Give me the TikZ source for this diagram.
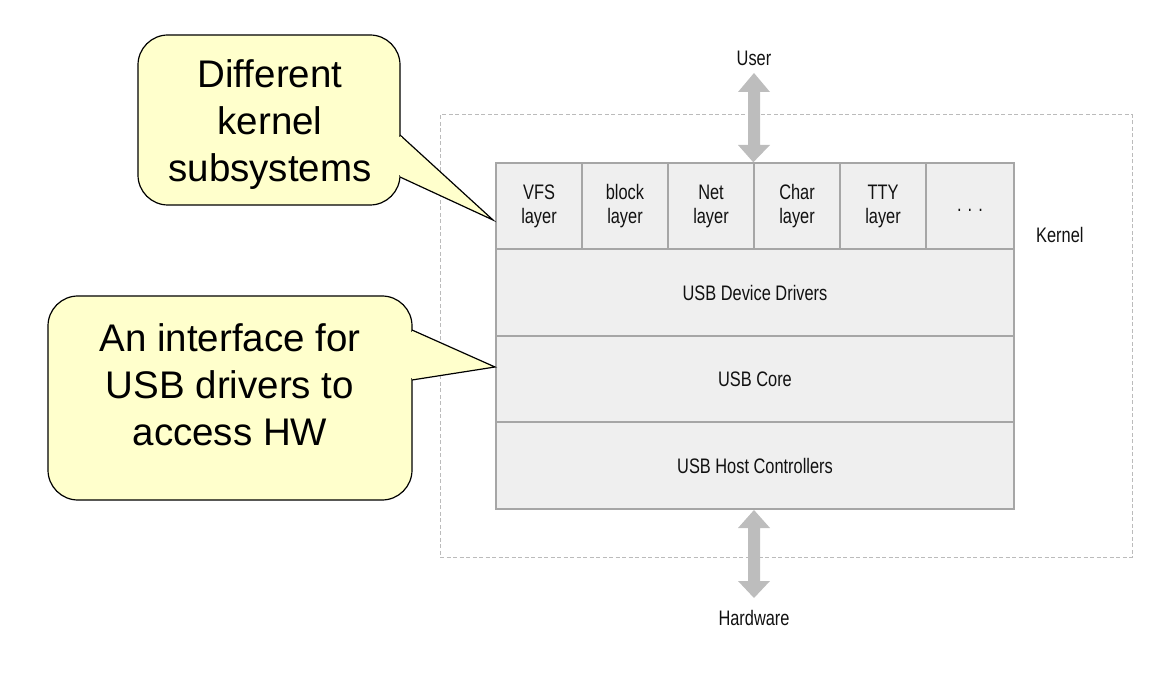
\documentclass[tikz,border=0pt]{standalone}
\usepackage{fontspec}
\setmainfont{Liberation Sans}
\newfontfamily\condfont[FakeStretch=0.78]{Liberation Sans}
\definecolor{cellfill}{HTML}{EFEFEF}
\definecolor{cellline}{HTML}{A6A6A6}
\definecolor{arrowgray}{HTML}{BDBDBD}
\definecolor{dashgray}{HTML}{BBBBBB}
\definecolor{callfill}{HTML}{FFFFCC}
\definecolor{textdark}{HTML}{111111}
\begin{document}
\begin{tikzpicture}[x=1pt,y=-1pt,
  cell/.style={draw=cellline, line width=1.4pt, fill=cellfill, inner sep=0pt,
    text=textdark, align=center, font=\condfont\fontsize{21}{24}\selectfont},
  lbl/.style={text=textdark, inner sep=0pt, font=\condfont\fontsize{21}{24}\selectfont},
  callout/.style={draw=black, line width=1.2pt, fill=callfill},
  calltext/.style={align=center, inner sep=0pt, font=\fontsize{38.5}{47}\selectfont},
  bigarrow/.style={fill=arrowgray, draw=none}]
\useasboundingbox (0,0) rectangle (1170,684);
% kernel dashed box
\node[draw=dashgray, dash pattern=on 4pt off 2.5pt, line width=1pt, minimum width=692, minimum height=442, inner sep=0pt] (kernelbox) at (786,336) {};
\node[lbl, anchor=west] (kernel) at (1036,235) {Kernel};
% top row cells
\node[cell, minimum width=86, minimum height=86] (vfs) at (539,206) {VFS\\layer};
\node[cell, minimum width=86, minimum height=86] (block) at (625,206) {block\\layer};
\node[cell, minimum width=86, minimum height=86] (net) at (711,206) {Net\\layer};
\node[cell, minimum width=86, minimum height=86] (char) at (797,206) {Char\\layer};
\node[cell, minimum width=86, minimum height=86] (tty) at (883,206) {TTY\\layer};
\node[cell, minimum width=88, minimum height=86] (dots) at (970,206) {};
\node[lbl] (dotstext) at ([yshift=-4pt]dots.center) {.\hspace{6pt}.\hspace{6pt}.};
% layers
\node[cell, minimum width=518, minimum height=87] (drivers) at (755,292.5) {USB Device Drivers};
\node[cell, minimum width=518, minimum height=86] (core) at (755,379) {USB Core};
\node[cell, minimum width=518, minimum height=87] (hcd) at (755,465.5) {USB Host Controllers};
% user arrow
\node[lbl] (user) at (754,58) {User};
\coordinate (ut) at (754,73);
\coordinate (ub) at (char.north west);
\fill[bigarrow] (ut) -- ++(16,19) -- ++(-10,0) -- (760,145) -- (770,145) -- (ub) -- (738,145) -- (748,145) -- (748,92) -- (738,92) -- cycle;
% hardware arrow
\node[lbl] (hw) at (754,618) {Hardware};
\coordinate (ht) at (754,510);
\coordinate (hb) at (754,598);
\fill[bigarrow] (ht) -- (770,528) -- (760,528) -- (760,581) -- (770,581) -- (hb) -- (738,581) -- (748,581) -- (748,528) -- (738,528) -- cycle;
% callout 1
\node[callout, rounded corners=30pt, minimum width=262, minimum height=170, inner sep=0pt] (c1) at (269,120) {};
\coordinate (c1tip) at (493,220);
\filldraw[callout] (400,135) -- (c1tip) -- (400,177);
\fill[callfill] (396,137) rectangle (401.5,175.5);
\node[calltext] (c1t) at (270,125) {Different\\kernel\\subsystems};
% callout 2
\node[callout, rounded corners=30pt, minimum width=364, minimum height=204, inner sep=0pt] (c2) at (230,398) {};
\coordinate (c2tip) at (495,367);
\filldraw[callout] (412,330) -- (c2tip) -- (412,380);
\fill[callfill] (408,332) rectangle (413.5,378.5);
\node[calltext] (c2t) at (230,385) {An interface for\\USB drivers to\\access HW};
\end{tikzpicture}
\end{document}
